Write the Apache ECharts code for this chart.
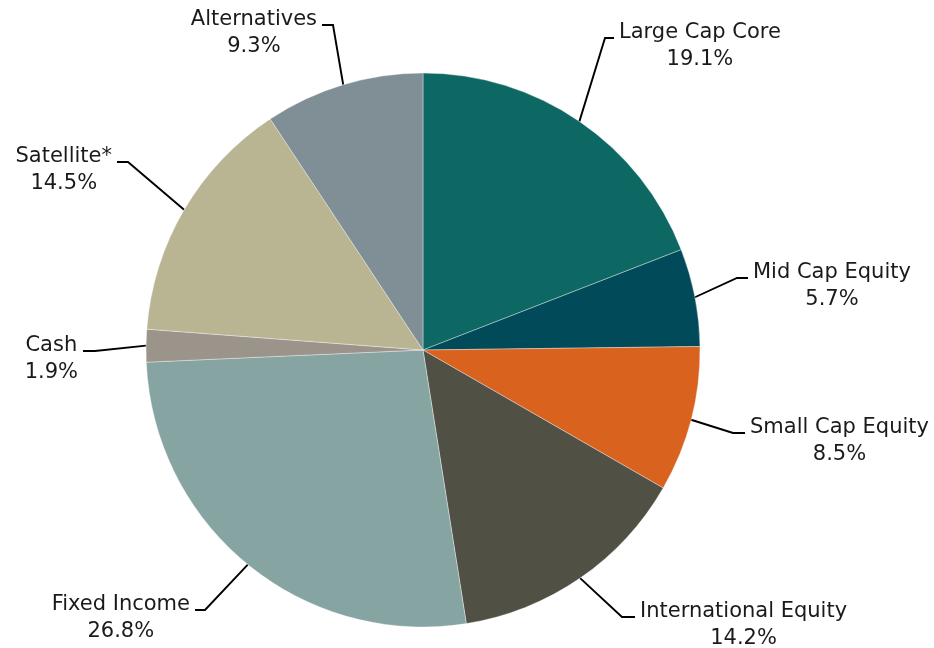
<!DOCTYPE html>
<html>
<head>
<meta charset="utf-8">
<title>Asset Allocation</title>
<script src="https://cdn.jsdelivr.net/npm/echarts@6/dist/echarts.min.js"></script>
<style>
  html, body { margin: 0; padding: 0; background: #ffffff; }
  #chart { width: 934px; height: 648px; }
</style>
</head>
<body>
<div id="chart"></div>
<script>
// Allocation categories, clockwise from 12 o'clock
var categories = [
  'Large Cap Core',
  'Mid Cap Equity',
  'Small Cap Equity',
  'International Equity',
  'Fixed Income',
  'Cash',
  'Satellite*',
  'Alternatives'
];

// Allocation weights (%)
var weights = [19.1, 5.7, 8.5, 14.2, 26.8, 1.9, 14.5, 9.3];

// Slice colours
var sliceColors = [
  '#0d6864', '#004a5a', '#d9621e', '#505045',
  '#86a4a2', '#9a948b', '#b9b593', '#808f96'
];

// Leader-line geometry per label: elbow point, end of the short
// horizontal tick, and which side the text sits on.
var labelGuides = [
  { elbow: [605, 38],  end: [614, 38],  side: 'right' },
  { elbow: [737, 278], end: [748, 278], side: 'right' },
  { elbow: [733, 433], end: [745, 433], side: 'right' },
  { elbow: [622, 617], end: [635, 617], side: 'right' },
  { elbow: [205, 610], end: [195, 610], side: 'left'  },
  { elbow: [95, 351],  end: [83, 351],  side: 'left'  },
  { elbow: [128, 162], end: [117, 162], side: 'left'  },
  { elbow: [333, 25],  end: [322, 25],  side: 'left'  }
];

var FONT = 'DejaVu Sans, Verdana, sans-serif';
var FONT_SIZE = 21;
var LINE_H = 27;
var TEXT_GAP = 5;

var chart = echarts.init(document.getElementById('chart'), null, { renderer: 'canvas' });

var pieData = categories.map(function (name, i) {
  return { name: name, value: weights[i], itemStyle: { color: sliceColors[i] } };
});

chart.setOption({
  animation: false,
  backgroundColor: '#ffffff',
  series: [{
    type: 'pie',
    center: [423, 350],
    radius: 277,
    startAngle: 90,
    clockwise: true,
    avoidLabelOverlap: false,
    itemStyle: {
      borderColor: 'rgba(255,255,255,0.45)',
      borderWidth: 0.8
    },
    emphasis: { disabled: true },
    label: {
      show: true,
      position: 'outside',
      formatter: function (p) {
        return '{n|' + p.name + '}\n{n|' + p.value.toFixed(1) + '%}';
      },
      rich: {
        n: {
          fontFamily: FONT,
          fontSize: FONT_SIZE,
          lineHeight: LINE_H,
          color: '#1a1a1a',
          align: 'center'
        }
      }
    },
    labelLine: {
      show: true,
      length: 20,
      length2: 10,
      lineStyle: { color: '#000000', width: 1.9 }
    },
    labelLayout: function (params) {
      var g = labelGuides[params.dataIndex];
      var anchor = params.labelLinePoints ? params.labelLinePoints[0] : g.elbow;
      var right = g.side === 'right';
      return {
        x: right ? g.end[0] + TEXT_GAP : g.end[0] - TEXT_GAP,
        y: g.end[1] - 19,
        align: right ? 'left' : 'right',
        verticalAlign: 'top',
        labelLinePoints: [anchor, g.elbow, g.end]
      };
    },
    data: pieData
  }]
});
</script>
</body>
</html>
